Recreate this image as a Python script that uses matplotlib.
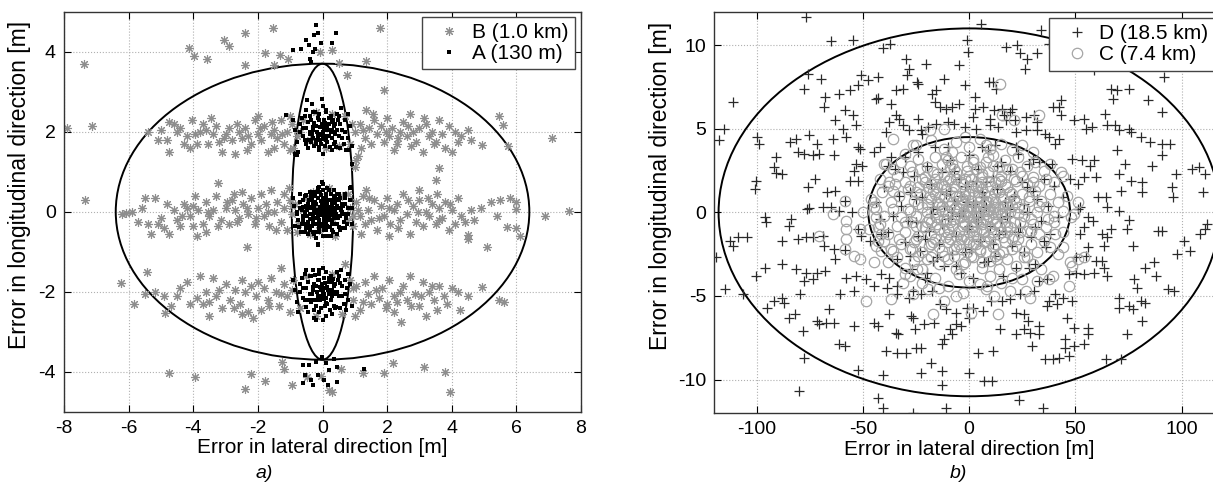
import matplotlib
matplotlib.use('Agg')
import matplotlib.pyplot as plt
from matplotlib.patches import Ellipse

plt.rcParams['font.family'] = ['Liberation Sans', 'DejaVu Sans']
plt.rcParams['axes.unicode_minus'] = False

# ---------------- panel a) data ----------------
# A (130 m): black dots, three clusters + a few strays
A_mid = [(0.0,0.0),(0.1,0.1),(-0.1,0.05),(0.2,-0.1),(-0.2,-0.15),(0.05,0.25),(-0.05,-0.3),(0.3,0.15),
    (-0.3,0.2),(0.15,-0.35),(-0.15,0.35),(0.4,-0.05),(-0.4,-0.05),(0.25,0.3),(-0.25,-0.3),(0.5,0.1),
    (-0.5,0.15),(0.45,-0.3),(-0.45,-0.25),(0.1,0.45),(-0.1,-0.5),(0.6,0.0),(-0.6,-0.1),(0.35,0.4),
    (-0.35,0.4),(0.3,-0.45),(-0.3,-0.5),(0.7,0.2),(-0.7,0.25),(0.65,-0.25),(-0.65,-0.3),(0.0,0.55),
    (0.0,-0.6),(0.2,0.55),(-0.2,0.5),(0.2,-0.6),(-0.2,-0.65),(0.8,-0.05),(-0.8,0.0),(0.55,0.35),
    (-0.55,0.4),(0.55,-0.45),(-0.55,-0.5),(0.12,-0.12),(-0.08,0.12),(0.18,0.02),(-0.18,-0.02),
    (0.03,-0.18),(0.28,-0.22),(-0.28,0.08),(0.38,0.22),(-0.38,-0.18),(0.08,0.32),(-0.12,-0.38),
    (0.48,-0.15),(-0.48,0.05),(0.22,0.12),(-0.22,0.25),(0.32,-0.08),(-0.02,-0.08),(0.15,0.18),
    (-0.32,-0.35),(0.42,0.32),(-0.42,0.3),(0.62,0.15),(-0.62,0.12),(0.72,-0.15),(-0.75,-0.2),
    (0.85,0.3),(-0.85,-0.35),(0.9,-0.3),(-0.9,0.35),(0.25,-0.62),(-0.1,0.62),(0.35,0.55),(-0.4,0.5),
    (0.45,-0.55),(-0.45,-0.55),(0.05,-0.45),(-0.05,0.42),(0.6,-0.4),(-0.6,0.3),(0.78,0.1),(-0.78,-0.05),
    (0.02,0.08),(-0.12,-0.22),(0.12,-0.28),(0.32,0.05),(-0.26,0.0),(0.5,0.45),(-0.5,-0.4),(0.7,-0.4),
    (-0.7,0.45),(0.15,0.58),(-0.25,-0.55),(0.68,0.45),(-0.68,-0.5),(0.92,0.1),(-0.88,0.15),(0.4,0.05),
    (-0.35,0.1),(0.08,-0.62),(-0.15,0.6),(0.3,0.3),(-0.3,-0.1),(-0.13,-0.8),(0.0,0.7),(0.85,0.6),
    (-0.02,0.2),(0.1,-0.05),(-0.01,0.73),(0.88,0.62),(-0.13,-0.83),
    (0.05,0.05),(-0.05,-0.05),(0.15,-0.05),(-0.15,0.05),(0.1,0.2),(-0.1,-0.2),(0.25,0.0),(-0.25,0.1),
    (0.2,-0.2),(-0.2,0.2),(0.35,-0.15),(-0.35,-0.05),(0.0,0.35),(0.0,-0.35),(0.3,0.25),(-0.3,-0.25),
    (0.45,0.15),(-0.45,0.2),(0.4,-0.3),(-0.4,-0.35),(0.12,0.4),(-0.12,-0.42),(0.55,-0.1),(-0.55,0.0),
    (0.22,-0.38),(-0.22,0.38),(0.5,0.3),(-0.5,-0.3),(0.06,-0.25),(-0.06,0.27),(0.18,0.3),(-0.18,-0.32),
    (0.33,0.08),(-0.33,0.3),(0.28,-0.3),(-0.28,-0.15),(0.42,-0.05),(-0.42,0.12),(0.6,0.2),(-0.6,-0.2),
    (0.08,0.14),(-0.14,-0.1),(0.2,0.08),(-0.24,-0.04),(0.14,-0.18),(-0.02,0.18),(0.38,0.38),
    (-0.38,-0.45),(0.52,-0.38),(-0.5,0.42),(0.65,-0.05),(-0.65,0.05),(0.1,-0.45),(-0.08,0.48),
    (0.26,0.45),(-0.3,0.48),(0.45,0.45),(-0.48,-0.12),(0.7,0.35),(-0.72,-0.38),(0.58,0.05),
    (-0.18,-0.5),(0.32,-0.52),(0.75,-0.3),(-0.7,0.1)]
A_up = [(0.0,2.0),(0.1,2.1),(-0.1,1.95),(0.2,1.9),(-0.2,2.15),(0.3,2.05),(-0.3,1.85),(0.05,2.3),
    (-0.05,1.7),(0.4,2.2),(-0.4,2.0),(0.15,1.75),(-0.15,2.35),(0.5,1.9),(-0.5,2.1),(0.25,2.4),
    (-0.25,1.65),(0.6,2.05),(-0.6,1.9),(0.35,1.7),(-0.35,2.3),(0.7,2.3),(-0.7,2.2),(0.1,2.55),
    (-0.1,1.55),(0.45,2.45),(-0.45,1.6),(0.8,1.85),(-0.8,1.75),(0.55,1.6),(-0.55,2.4),(0.2,2.2),
    (-0.2,1.8),(0.3,1.55),(-0.3,2.5),(0.65,1.7),(-0.65,2.35),(0.0,2.65),(0.0,1.45),(0.85,2.15),
    (-0.85,2.05),(0.12,1.9),(-0.08,2.12),(0.38,1.95),(-0.42,1.78),(0.48,2.3),(-0.18,2.0),(0.28,2.25),
    (-0.28,2.05),(0.72,1.55),(-0.75,1.5),(0.9,1.65),(-0.9,2.3),(0.58,2.6),(-0.5,2.55),(0.08,1.65),
    (-0.12,2.45),(0.18,2.05),(0.05,1.82),(-0.02,2.2),(0.42,1.62),(0.78,2.45),(-0.49,2.79),(-0.34,2.69),
    (-0.01,2.81),(-1.14,2.42),(-0.84,1.44),(-0.78,1.42),(0.82,1.54),(0.9,1.2),(0.32,2.0),(-0.38,1.95),
    (0.05,2.05),(-0.05,1.92),(0.15,2.12),(-0.15,1.88),(0.25,1.98),(-0.25,2.22),(0.1,1.8),(-0.1,2.28),
    (0.35,2.15),(-0.35,1.75),(0.2,2.35),(-0.2,1.68),(0.45,2.05),(-0.45,2.25),(0.3,1.85),(-0.3,2.12),
    (0.55,2.2),(-0.55,1.8),(0.0,2.12),(0.0,1.88),(0.4,1.75),(-0.4,2.4),(0.6,1.85),(-0.6,2.1),
    (0.12,2.48),(-0.12,1.62),(0.22,1.62),(-0.22,2.5),(0.5,2.38),(-0.5,1.68),(0.7,2.0),(-0.7,1.98),
    (0.08,2.22),(-0.08,1.78),(0.32,2.3),(-0.32,1.95)]
A_low = [(0.0,-2.0),(0.1,-1.9),(-0.1,-2.1),(0.2,-2.05),(-0.2,-1.85),(0.3,-1.95),(-0.3,-2.2),(0.05,-1.65),
    (-0.05,-2.4),(0.4,-1.8),(-0.4,-2.05),(0.15,-2.3),(-0.15,-1.7),(0.5,-2.1),(-0.5,-1.9),(0.25,-1.6),
    (-0.25,-2.45),(0.6,-1.85),(-0.6,-2.15),(0.35,-2.35),(-0.35,-1.6),(0.7,-1.7),(-0.7,-1.8),(0.1,-2.6),
    (-0.1,-1.45),(0.45,-1.5),(-0.45,-2.5),(0.8,-2.2),(-0.8,-2.25),(0.55,-2.4),(-0.55,-1.55),(0.2,-1.75),
    (-0.2,-2.2),(0.3,-2.55),(-0.3,-1.45),(0.65,-2.3),(-0.65,-1.65),(0.0,-2.7),(0.0,-1.4),(0.85,-1.8),
    (-0.85,-1.95),(0.12,-2.15),(-0.08,-1.88),(0.38,-2.05),(-0.42,-2.22),(0.48,-1.7),(-0.18,-2.0),
    (0.28,-1.75),(-0.28,-1.95),(0.72,-2.45),(-0.75,-2.5),(0.9,-2.35),(-0.9,-1.7),(0.58,-1.45),
    (-0.5,-1.45),(0.08,-2.35),(-0.12,-1.55),(0.18,-1.95),(0.05,-2.18),(-0.02,-1.8),(0.42,-2.38),
    (0.78,-1.55),(-0.25,-2.67),(-0.2,-2.7),(0.75,-1.9),(0.32,-2.0),(-0.38,-2.05),
    (0.05,-2.05),(-0.05,-1.95),(0.15,-1.88),(-0.15,-2.12),(0.25,-2.2),(-0.25,-1.8),(0.1,-2.28),
    (-0.1,-1.72),(0.35,-1.85),(-0.35,-2.25),(0.2,-1.65),(-0.2,-2.35),(0.45,-2.0),(-0.45,-1.75),
    (0.3,-2.12),(-0.3,-1.88),(0.55,-1.78),(-0.55,-2.2),(0.0,-1.9),(0.0,-2.1),(0.4,-2.42),(-0.4,-1.62),
    (0.6,-2.12),(-0.6,-1.9),(0.12,-1.52),(-0.12,-2.5),(0.22,-2.45),(-0.22,-1.58),(0.5,-1.62),
    (-0.5,-2.38),(0.7,-2.05),(-0.7,-2.0),(0.08,-1.78),(-0.08,-2.22),(0.32,-1.68),(-0.32,-2.05)]
A_out = [(-0.19,4.67),(-0.13,4.46),(-0.25,4.42),(0.42,4.46),(-0.52,4.28),(-0.43,4.17),(-0.67,4.07),
    (-0.23,4.06),(-0.31,4.0),(0.29,4.21),(-0.04,4.21),(-0.39,3.81),(-0.9,4.04),(-0.37,3.75),
    (-0.61,-3.82),(-0.43,-3.82),(-0.19,-3.75),(0.11,-3.77),(0.34,-3.67),(0.44,-3.88),(0.2,-3.96),
    (-0.55,-4.08),(-0.37,-4.21),(-0.13,-4.08),(0.05,-4.21),(-0.61,-4.29),(-0.31,-4.33),(0.17,-4.33),
    (0.44,-4.25),(1.27,-3.92),(-0.01,-3.62)]

# B (1.0 km): grey asterisks, three bands + outliers
B_up = [(-7.9,2.1),(-7.14,2.14),(-5.4,1.98),(-5.0,2.05),(-4.76,1.48),(-4.8,1.79),(-4.76,2.25),(-4.5,2.0),
    (-4.4,2.1),(-4.2,1.9),(-4.05,2.3),(-3.9,1.7),(-3.8,2.0),(-3.7,2.2),(-3.6,2.05),(-3.55,1.7),(-3.4,1.95),
    (-3.3,2.15),(-3.1,1.5),(-3.0,1.95),(-2.9,2.1),(-2.8,1.8),(-2.7,1.45),(-2.6,2.0),(-2.5,1.85),(-2.4,2.1),
    (-2.3,1.9),(-2.2,1.7),(-2.1,2.3),(-2.0,1.95),(-1.9,1.8),(-1.8,2.15),(-1.7,1.5),(-1.6,1.95),(-1.5,2.05),
    (-1.4,1.85),(-1.3,2.3),(-1.2,1.7),(-1.1,2.0),(-1.0,1.55),(-0.95,2.2),(-0.8,1.9),(-0.6,2.3),(-0.4,1.8),
    (-0.2,2.5),(0.1,1.6),(0.3,2.45),(0.5,1.65),(0.7,2.4),(0.85,1.7),(1.0,2.0),(1.1,1.4),(1.15,2.2),
    (1.3,1.85),(1.35,2.55),(1.45,2.1),(1.5,1.7),(1.6,2.3),(1.7,1.95),(1.8,2.15),(1.9,1.75),(2.0,2.35),
    (2.05,1.9),(2.15,2.1),(2.3,1.7),(2.4,2.0),(2.5,2.25),(2.6,1.9),(2.7,2.45),(2.8,2.0),(2.9,1.75),
    (3.0,2.1),(3.1,1.5),(3.2,2.2),(3.3,1.9),(3.45,1.7),(3.6,2.3),(3.7,1.95),(3.8,1.6),(4.0,1.5),(4.1,2.0),
    (4.3,1.9),(4.5,2.05),(4.6,1.8),(4.95,1.67),(5.45,2.39),(5.57,2.17),(5.75,1.63),(7.11,1.83),(-4.6,2.2),
    (-3.2,1.75),(-2.0,2.4),(-1.5,1.6),(3.5,1.75),(2.2,1.55),(1.0,1.12),(1.05,1.3),(3.6,1.1),(3.5,0.8),
    (-4.3,1.7),(-3.95,1.95),(-3.45,2.35),(-3.05,1.85),(-2.65,2.2),(-2.35,1.55),(-1.95,2.1),(-1.55,2.25),
    (-1.25,1.95),(-0.9,1.6),(-0.7,2.0),(0.9,2.2),(1.2,1.6),(1.55,2.45),(1.95,2.0),(2.35,1.85),(2.75,1.65),
    (3.15,2.35),(3.4,2.0),(3.9,2.15),(4.2,1.75),(-5.1,1.8),(-4.1,1.6),(2.65,2.15),(1.25,2.05),(-1.0,2.4)]
B_mid = [(-7.35,0.29),(-6.2,-0.05),(-6.07,-0.04),(-5.9,0.0),(-5.7,-0.25),(-5.5,0.35),(-5.4,-0.3),(-5.2,0.35),
    (-5.3,-0.55),(-5.0,-0.15),(-4.9,-0.4),(-4.75,-0.55),(-4.6,0.05),(-4.5,-0.2),(-4.4,-0.35),(-4.3,0.2),
    (-4.2,0.1),(-4.1,-0.1),(-4.0,0.15),(-3.9,-0.6),(-3.85,0.05),(-3.7,-0.3),(-3.6,0.25),(-3.5,-0.1),
    (-3.4,0.05),(-3.3,0.4),(-3.22,0.71),(-3.15,-0.2),(-3.0,0.1),(-2.9,-0.3),(-2.8,0.3),(-2.7,0.05),
    (-2.6,-0.15),(-2.5,0.5),(-2.45,0.2),(-2.33,-0.88),(-2.3,-0.05),(-2.2,0.35),(-2.1,-0.3),(-2.0,0.1),
    (-1.9,0.45),(-1.8,-0.1),(-1.75,0.2),(-1.65,-0.35),(-1.6,0.55),(-1.5,0.0),(-1.4,0.25),(-1.3,-0.25),
    (-1.2,0.1),(-1.1,-0.45),(-1.0,0.3),(-0.95,-0.05),(-0.85,0.2),(-0.75,-0.3),(-0.6,0.05),(-0.5,0.35),
    (-0.4,-0.55),(-0.3,0.5),(-0.1,-0.45),(0.2,0.6),(0.4,-0.6),(0.6,0.4),(0.75,-0.2),(0.85,0.1),
    (0.95,-0.35),(1.05,0.25),(1.15,-0.1),(1.25,0.4),(1.3,-0.3),(1.4,0.05),(1.5,-0.2),(1.6,0.3),
    (1.7,-0.45),(1.8,0.15),(1.9,-0.1),(2.0,0.35),(2.1,-0.3),(2.2,0.05),(2.3,0.2),(2.4,-0.2),(2.5,0.45),
    (2.6,-0.05),(2.7,-0.55),(2.8,0.15),(2.9,-0.25),(3.0,0.3),(3.1,-0.35),(3.2,0.0),(3.3,-0.1),(3.4,0.2),
    (3.5,-0.3),(3.6,0.1),(3.7,-0.15),(3.8,0.25),(3.9,-0.45),(4.0,0.05),(4.1,-0.3),(4.2,0.35),(4.3,-0.1),
    (4.5,-0.58),(4.5,-0.69),(4.6,0.05),(4.7,-0.2),(5.1,-0.88),(5.2,0.25),(5.5,0.3),(5.7,-0.38),(5.8,0.33),
    (6.0,0.25),(6.0,0.06),(6.0,-0.42),(6.1,-0.61),(6.88,-0.11),(7.62,0.02),(-1.05,0.6),(1.35,0.55),
    (3.0,0.55),(-3.6,-0.5),(-2.75,0.45),(2.05,-0.6),(3.55,0.45),(-0.2,0.1),(0.3,-0.15),
    (-5.6,0.1),(-5.1,-0.3),(-4.8,0.2),(-4.35,-0.1),(-3.95,0.4),(-3.55,0.0),(-3.25,-0.35),(-2.95,0.25),
    (-2.65,-0.25),(-2.35,0.1),(-2.05,-0.15),(-1.7,0.0),(-1.45,-0.45),(-1.2,0.45),(-0.95,0.15),(-0.8,-0.5),
    (0.8,0.45),(0.95,-0.1),(1.1,0.05),(1.45,0.35),(1.75,-0.15),(2.05,0.1),(2.35,-0.4),(2.65,0.3),
    (2.95,0.0),(3.25,0.35),(3.6,-0.2),(3.95,0.2),(4.4,-0.25),(4.9,0.1),(5.4,-0.1),(-4.0,-0.35),(1.2,-0.55)]
B_low = [(-6.25,-1.79),(-5.83,-2.31),(-5.42,-1.5),(-5.2,-2.0),(-4.88,-2.54),(-4.7,-2.35),(-4.5,-2.1),
    (-4.2,-1.75),(-4.1,-2.3),(-3.9,-2.15),(-3.8,-1.6),(-3.6,-2.0),(-3.5,-2.25),(-3.4,-1.65),(-3.3,-2.1),
    (-3.1,-2.4),(-3.0,-1.8),(-2.85,-2.2),(-2.7,-1.95),(-2.55,-2.3),(-2.5,-1.7),(-2.3,-2.5),(-2.2,-1.85),
    (-2.15,-2.67),(-2.05,-2.1),(-1.9,-2.45),(-1.8,-1.9),(-1.7,-2.2),(-1.6,-1.65),(-1.45,-2.0),(-1.35,-2.35),
    (-1.2,-1.8),(-1.1,-2.1),(-1.0,-2.5),(-0.9,-1.7),(-0.7,-2.4),(-0.5,-1.6),(-0.2,-2.6),(0.3,-1.55),
    (0.6,-2.55),(0.85,-1.7),(0.95,-2.2),(1.05,-1.85),(1.15,-2.45),(1.3,-1.75),(1.4,-2.05),(1.5,-2.3),
    (1.6,-1.6),(1.75,-2.15),(1.85,-1.9),(1.95,-2.4),(2.05,-1.7),(2.2,-2.1),(2.3,-2.25),(2.42,-2.77),
    (2.5,-1.85),(2.6,-2.2),(2.7,-1.6),(2.85,-2.05),(3.0,-2.35),(3.1,-1.75),(3.2,-2.6),(3.3,-2.0),
    (3.45,-2.2),(3.55,-2.45),(3.6,-1.85),(3.75,-2.1),(4.0,-1.9),(4.26,-2.46),(4.5,-2.1),(4.92,-1.88),
    (5.45,-2.2),(5.63,-2.25),(-1.3,-1.4),(0.7,-1.3),(-2.5,-2.55),(1.0,-2.6),(-3.5,-2.6),
    (-4.9,-2.1),(-4.4,-1.9),(-3.7,-2.3),(-3.2,-1.95),(-2.75,-2.4),(-2.4,-2.0),(-2.0,-1.75),(-1.65,-2.35),
    (-1.3,-2.05),(-0.95,-1.95),(0.95,-1.9),(1.25,-2.25),(1.65,-1.95),(2.0,-2.3),(2.4,-2.0),(2.75,-2.35),
    (3.05,-2.1),(3.4,-1.85),(3.85,-2.3),(4.2,-2.0),(-5.5,-2.05),(2.2,-2.5)]
B_out = [(-1.53,4.58),(1.77,4.58),(-2.39,4.46),(-3.04,4.29),(-2.89,4.13),(-4.14,4.10),(-3.99,3.89),
    (-3.57,3.81),(-7.37,3.69),(-2.39,3.67),(-1.79,3.96),(-1.32,3.92),(-1.08,3.81),(-1.50,3.67),
    (-0.07,4.0),(0.29,4.04),(0.52,3.71),(1.35,3.77),(0.76,3.42),(1.91,3.04),
    (-4.76,-4.04),(-3.95,-4.13),(-2.21,-4.06),(-2.39,-4.42),(-1.79,-4.23),(-1.24,-3.75),(-1.2,-3.92),
    (-0.94,-4.33),(-0.49,-4.13),(0.58,-3.92),(0.29,-4.5),(1.24,-4.04),(1.89,-4.04),(2.19,-3.77),
    (3.14,-3.88),(3.79,-4.0),(3.93,-4.5),(-0.05,-4.1),(0.2,-4.45)]

# fitted ellipses (semi-axes, m)
ell_a = [(6.4, 3.7), (0.95, 3.7)]

# ---------------- panel b) data ----------------
D_pts = [(-77,11.66),(-65,10.26),(-54.7,10.3),(-40.4,9.8),(-37.2,10.06),(-0.9,10.3),(-0.4,9.6),(5.5,11.26),
    (34,10.9),(17.4,9.9),(22.6,10),(23.9,9.5),(27,9.2),(31.7,9.5),(37.6,10.06),(26.2,8.6),(-4.6,8.8),
    (-20.2,8.9),(-29.9,9.2),(-28.4,8.6),(-111,6.6),(-115.6,5.0),(-118,4.3),(-112.8,-1.7),(-109,-1.46),
    (-111,-2.0),(-104.6,-1.5),(-115,-4.6),(-119,-2.7),(-100,4.5),(-99,4.1),(-100.4,1.9),(-101,1.4),
    (-96.3,-0.3),(-95.8,-0.6),(-90.8,3.3),(-91.7,2.7),(-91.2,2.34),(-88,2.3),(-84.4,4.2),(-81.7,4.4),
    (-80.7,3.6),(-78,3.5),(-75.2,4.6),(-73.4,3.4),(-71.6,4.1),(-70.6,3.5),(-64.2,4.4),(-63.7,3.4),
    (-72.5,2.0),(-78,7.4),(-76,8.26),(-69.7,8.0),(-67.9,6.9),(-68.3,6.3),(-61.5,7.06),(-56.3,7.3),
    (-58.7,6.1),(-63.3,5.5),(-50.8,8.2),(-47.7,7.9),(-43.1,8.1),(-44,6.8),(-42.8,6.86),(-52.3,7.6),
    (-59.6,5.0),(-54.5,5.8),(-53.2,5.2),(-57.8,4.5),(-52.3,3.9),(-51.4,3.8),(-53.2,2.9),(-54.1,2.5),
    (-52.3,1.9),(-56,1.9),(-50.5,2.8),(-45,3.6),(-42.2,3.9),(-36.7,3.3),(-76,1.5),(-67,1.2),(-63.3,1.3),
    (-76.5,0.2),(-75.2,0.26),(-68.8,0.3),(-65.1,0.3),(-61.5,0.1),(-58.7,0.7),(-55,0),(-83.9,-0.4),
    (-84.8,-0.8),(-88,-1.7),(-80.7,-1.6),(-77,-1.5),(-73.4,-1.5),(-68.8,-1.4),(-68.4,-2.0),(-63.7,-2.2),
    (-58.7,-2.26),(-52.3,-1.0),(-50.8,-1.4),(-46.8,-1.7),(-41.3,-1.3),(-96.3,-3.3),(-100.4,-3.8),
    (-88,-3.1),(-81.7,-3.4),(-77,-3.6),(-71.6,-3.6),(-67.9,-3.5),(-63.3,-2.8),(-78,-4.1),(-73.4,-4.0),
    (-106.4,-4.9),(-95.4,-5.7),(-92.1,-5.3),(-88,-5.1),(-87.2,-5.4),(-85,-6.3),(-82.2,-6.1),(-79.8,-4.9),
    (-78.3,-7.1),(-71.6,-6.5),(-70.6,-6.7),(-67.3,-6.6),(-63.7,-6.6),(-78,-8.7),(-80.2,-10.66),
    (-61.1,-7.9),(-58.7,-8.0),(-66,-5.8),(-60.6,-4.9),(-58.2,-3.9),(-54.1,-4.7),(-53.2,-3.8),(-48.6,-4.0),
    (-44.9,-4.4),(-41.3,-3.7),(-37.6,-3.9),(-33.9,-4.4),(-54.1,-6.8),(-44.9,-6.6),(-43.1,-6.8),
    (-37.6,-6.1),(-34.3,-7.2),(-33.4,-7.3),(-27.5,-6.2),(-26.6,-6.3),(-25.7,-7.0),(-25.1,-8.1),
    (-22.6,-8.1),(-33.9,-8.4),(-29.7,-8.4),(-39.4,-8.3),(-52.3,-9.4),(-40.4,-9.7),(-43.1,-11.1),
    (-40.4,-11.7),(-26.6,-12.0),(-22.6,-9.6),(-17.8,-9.0),(-12.8,-9.5),(-12.8,-10.3),(-11,-11.7),
    (0,-9.6),(7,-10.1),(10.6,-10.06),(14.7,-7.0),(4.2,-8.4),(11,-8.3),(-21.1,-6.7),(-16.5,-6.6),
    (-11.9,-7.6),(-9.2,-7.0),(-6.1,-6.7),(-3.7,-6.8),(0,-6.3),(-8.3,-7.3),(-12.8,-7.9),
    (22,-6),(25.7,-6.1),(27.5,-6.5),(22,-7.3),(25.7,-7),(28.4,-7.2),(33,-6.8),(33,-7.3),(23.3,-11.2),
    (34.9,-11.7),(29.4,-8),(35.8,-8.8),(39.4,-8.8),(42.2,-8.7),(46.8,-8.6),(45,-7.6),(45,-8.1),
    (49.5,-8.0),(54.1,-7.9),(56,-7.3),(56,-6.9),(49.5,-6.9),(45.9,-6.3),(41.3,-5.5),(44,-5.1),
    (48.6,-5.3),(37.6,-5.3),(36.7,-5.6),(40.4,-4.9),(64.2,-8.8),(71.6,-8.8),(74.3,-7.3),(70.6,-5.1),
    (70.6,-5.7),(75.2,-5.6),(77,-5.8),(80.7,-5.3),(82.6,-5.4),(81.6,-6.5),(78.9,-4.5),(77.6,-4.0),
    (82.6,-3.3),(87.2,-3.0),(88,-3.8),(93.6,-4.6),(96.3,-4.7),(97.8,-2.5),(101,-1.7),(104,-2.3),
    (108.8,-1.3),(111,-1.0),(112,-0.7),(89,-1.1),(91,-1.1),(90.8,3.4),(95.6,1.5),(96.1,0.9),(97.2,2.3),
    (110,1.2),(108,2.7),(111,2.3),(77,-2.0),(65,-1.5),(63.3,-2.0),(62.4,-1.3),(67,-1.0),(74.3,-1.0),
    (75.2,-0.46),(70.6,0.1),(71.6,1.3),(76.1,1.9),(81.6,1.8),(81.6,1.2),(70.6,2.3),(73.4,2.9),
    (69.7,3.7),(76.1,4.8),(75.2,5.0),(80.7,4.5),(85.3,4.2),(90.8,4.1),(94.5,4.1),(86.2,2.8),
    (67,7.4),(69.7,7.3),(75.2,7.4),(67.9,6.8),(84.4,6.7),(90.8,6.0),(91.7,8.1),(105,2.6),(63.9,5.9),
    (65.1,5.2),(68.8,5.2),(70.6,4.9),(58.7,8.5),(43.1,6.7),(42.2,6.3),(43.1,5.8),(49.5,5.5),(54.1,5.6),
    (55,5.0),(57.8,5.1),(58.7,3.1),(56.9,2.8),(53.2,3.1),(48.6,3.2),(47.7,2.0),(51.4,1.7),(54.1,2.1),
    (59.6,2.1),(60.6,0.9),(64.2,0.9),(65.1,0.3),(51.4,0.2),(52.3,0.3),(56,-0.3),(58.1,-0.5),(54.1,-0.9),
    (52.3,-1.3),(56,-2.1),(50.5,-2.7),(55,-2.6),(59.6,-2.9),(62.4,-2.9),(58.7,-3.6),(63.3,-3.3),
    (65.1,-3.8),(54.1,-3.7),(50.5,-3.6),(46.8,-3.7),
    (2.8,6.9),(9.2,7.8),(11,7.8),(12.8,7.4),(11.9,6.1),(15.6,6.2),(19.3,6.0),(20.2,6.2),(16.5,5.8),
    (10,5.6),(6.4,6.3),(2.8,6.2),(1.8,5.7),(3.1,5.0),(-1.8,5.1),(-7.3,5.3),(-10.1,5.4),(-4.6,6.5),
    (-8.3,6.3),(-11,6.2),(-13.8,6.3),(-16,6.6),(-17.4,7.1),(-15.6,7.3),(-11.9,8.0),(-1.8,7.6),
    (-24.8,7.8),(-23.9,7.7),(-34.3,7.3),(-31.2,7.4),(-29.4,8.2),(-36.7,6.5),(-34.3,5.8),(-33,5.6),
    (-31.2,5.2),(-37.6,5.4),(-39.4,4.8),(-28.4,4.9),(-22.9,4.9),(-22,4.7),(-19.3,5.1),(-15.6,5.3),
    (-23.9,5.6),(22,4.8),(26.6,4.9),(30.3,5.8),(32.1,5.4),(32.1,4.9),(35.8,4.7),(37.6,4.5),(40.4,4.1),
    (42.2,4.4),(39.4,6.3),(26.6,5.7),(21.6,5.5),(17.4,5.5),(13.8,5.1),(10,5.2),
    (-26.6,-4.7),(-22.9,-4.9),(-17.4,-4.7),(-13.8,-5.5),(-11,-5.8),(-6.4,-6),(-0.9,-5.7),(1.8,-5.7),
    (6.4,-5.9),(10.1,-5.3),(15.6,-5.3),(19.3,-5.2),(23.9,-4.9),(30.3,-4.7),(33,-4.1),(36.7,-4.0),
    (-28.4,-5.1),(-33.9,-4.9),(-38.5,-4.5),
    (-40,1.5),(-38,-1.2),(-35,2.6),(-34,-2.8),(-32,0.4),(-30,3.3),(-30,-1.8),(-28,1.2),(-27,-3.4),
    (-26,2.2),(-25,-0.6),(-24,3.6),(-23,-2.3),(-22,0.9),(-21,-3.9),(-20,2.8),(-19,-1.1),(-18,1.7),
    (-17,-2.9),(-16,3.9),(-15,0.2),(-14,-1.9),(-13,2.4),(-12,-3.2),(-11,1.1),(-10,-0.4),(-9,3.1),
    (-8,-2.5),(-7,0.7),(-6,-1.4),(-5,2.0),(-4,-3.6),(-3,0.1),(-2,1.6),(-1,-1.0),(0,3.4),(1,-2.2),
    (2,0.5),(3,-0.3),(4,2.6),(5,-1.7),(6,1.2),(7,-3.0),(8,0.3),(9,3.7),(10,-0.8),(11,2.1),(12,-2.6),
    (13,1.4),(14,-1.3),(15,3.0),(16,-3.8),(17,0.6),(18,-0.2),(19,2.5),(20,-2.0),(21,1.0),(22,-3.3),
    (23,3.5),(24,-0.9),(25,1.8),(26,-2.4),(27,0.0),(28,2.9),(29,-1.5),(30,1.3),(31,-3.1),(32,0.8),
    (33,3.0),(34,-0.5),(35,2.0),(36,-2.1),(37,0.4),(38,-1.3),(40,1.6),(42,-0.3),(44,0.9),(-42,-0.4),
    (-44,0.6),(-36,-0.2),(-33,1.0),(-29,-0.5),(-25,0.8),(-21,-1.6),(-17,0.3),(-13,-0.7),(-9,1.3),
    (-5,-0.2),(-1,0.6),(3,1.9),(7,0.9),(11,-1.9),(15,-0.4),(19,0.2),(23,-1.2),(27,1.5),(31,-0.9),
    (35,-1.7),(-6,-3.2),(2,-3.9),(6,3.9),(-10,3.9),(12,4.0),(-20,-3.6),(22,3.9),(28,-3.3),(-28,-2.6),
    (-31,2.4),(39,2.9),(-38,2.8),(-2,-2.4),(4,-0.6),(-7,2.5),(9,-2.9),(13,2.8),(-15,-2.7),(17,-1.1),
    (-12,0.4),(0,-0.8),(-4,1.0),(8,1.8),(-8,0.0),(26,0.5),(-24,-1.4),(30,3.2),(-18,-0.1),(5,0.0)]

C_pts = [(-25,4.0),(-18,4.3),(-12,3.8),(-6,4.2),(0,3.9),(5,4.4),(10,3.8),(15,4.1),(20,3.7),(25,4.0),
    (30,3.6),(-30,3.5),(-8,3.6),(8,4.0),(-2,4.5),
    (-36,2.6),(-32,3.0),(-28,2.8),(-24,3.2),(-20,2.7),(-16,3.3),(-13,2.9),(-10,3.1),(-7,2.6),(-4,3.3),
    (-1,2.8),(2,3.2),(5,2.7),(8,3.0),(11,3.4),(14,2.7),(17,3.1),(20,2.6),(23,3.3),(27,2.8),(31,3.0),
    (35,2.5),(38,2.9),(-40,2.9),
    (-42,2.0),(-38,1.6),(-34,2.2),(-30,1.8),(-27,2.4),(-24,1.5),(-21,2.1),(-18,1.7),(-15,2.3),(-12,1.6),
    (-9,2.0),(-6,2.4),(-3,1.7),(0,2.2),(3,1.6),(6,2.1),(9,2.4),(12,1.8),(15,2.2),(18,1.5),(21,2.0),
    (24,2.4),(27,1.7),(30,2.1),(33,1.6),(36,2.0),(40,1.8),(44,2.2),
    (-46,0.8),(-41,1.2),(-37,0.6),(-33,1.0),(-29,1.4),(-26,0.7),(-23,1.1),(-20,0.5),(-17,1.3),(-14,0.9),
    (-11,1.4),(-8,0.6),(-5,1.0),(-2,1.3),(1,0.7),(4,1.2),(7,0.5),(10,1.0),(13,1.4),(16,0.8),(19,1.2),
    (22,0.6),(25,1.1),(28,0.9),(31,1.3),(34,0.7),(38,1.1),(42,0.6),(46,1.0),(-15,0.6),(-3,0.8),(6,1.4),
    (12,0.6),
    (-50,0.0),(-45,0.3),(-40,-0.2),(-36,0.2),(-32,-0.3),(-28,0.1),(-25,-0.2),(-22,0.3),(-19,-0.4),
    (-16,0.0),(-13,0.4),(-10,-0.1),(-7,0.2),(-4,-0.3),(-1,0.1),(2,-0.2),(5,0.3),(8,-0.4),(11,0.0),
    (14,0.2),(17,-0.3),(20,0.4),(23,-0.1),(26,0.2),(29,-0.4),(32,0.0),(36,0.3),(40,-0.2),(44,0.1),
    (48,-0.3),(-6,-0.1),(3,0.4),(9,0.1),(-12,-0.4),(15,-0.1),
    (-47,-1.0),(-42,-0.7),(-38,-1.3),(-34,-0.8),(-30,-1.2),(-27,-0.6),(-24,-1.4),(-21,-0.9),(-18,-1.3),
    (-15,-0.7),(-12,-1.1),(-9,-0.6),(-6,-1.4),(-3,-0.8),(0,-1.2),(3,-0.6),(6,-1.0),(9,-1.4),(12,-0.7),
    (15,-1.2),(18,-0.8),(21,-1.4),(24,-0.6),(27,-1.1),(30,-0.7),(33,-1.3),(36,-0.9),(40,-0.6),
    (44,-1.2),(-10,-1.0),(2,-1.4),(10,-0.9),(-20,-0.6),
    (-44,-2.0),(-40,-1.7),(-36,-2.3),(-32,-1.9),(-28,-2.2),(-25,-1.6),(-22,-2.4),(-19,-2.0),(-16,-1.6),
    (-13,-2.3),(-10,-1.8),(-7,-2.2),(-4,-1.6),(-1,-2.4),(2,-1.9),(5,-2.3),(8,-1.7),(11,-2.1),(14,-2.5),
    (17,-1.8),(20,-2.2),(23,-1.6),(26,-2.3),(29,-1.9),(32,-2.4),(35,-1.7),(38,-2.1),(42,-2.5),
    (-38,-3.0),(-34,-2.7),(-30,-3.3),(-26,-2.9),(-22,-3.4),(-18,-2.7),(-14,-3.1),(-10,-2.8),(-6,-3.4),
    (-2,-3.0),(2,-2.7),(6,-3.3),(10,-2.9),(14,-3.4),(18,-2.8),(22,-3.2),(26,-2.7),(30,-3.1),(34,-3.4),
    (-24,-2.6),(12,-2.6),
    (-28,-3.8),(-22,-4.2),(-16,-3.9),(-10,-4.4),(-5,-3.7),(0,-4.1),(5,-4.3),(10,-3.8),(15,-4.2),
    (20,-3.9),(25,-4.0),(-14,-4.5),(8,-4.6),
    (-18,0.8),(-15,-0.3),(-13,1.7),(-11,-1.5),(-9,0.4),(-8,-0.8),(-7,1.6),(-5,-1.9),(-4,0.6),(-3,-0.6),
    (-2,2.0),(-1,-1.6),(0,0.4),(0,-0.3),(1,1.5),(2,0.2),(3,-1.1),(4,0.9),(5,-0.5),(6,1.8),(7,-1.7),
    (8,0.7),(9,-0.2),(10,1.6),(11,-1.2),(12,0.3),(13,-0.6),(14,1.2),(16,-1.5),(18,0.5),(19,-0.9),
    (-17,-1.8),(-16,1.1),(-14,-1.0),(-12,0.9),(-10,1.9),(-6,0.3),(-2,-0.1),(1,-0.9),(4,-1.6),(7,0.1),
    (11,0.8),(15,1.9),(17,0.0),(-19,1.5),(20,-1.6),
    (-28,1.6),(-26,-1.8),(-24,0.5),(-23,2.6),(-22,-0.8),(-21,1.8),(-20,-2.8),(-19,0.9),(-18,-1.9),
    (-17,2.4),(-16,-0.9),(-15,1.5),(-14,-2.1),(-13,0.1),(-12,2.2),(-11,-0.5),(-10,0.7),(-9,-1.6),
    (-9,2.7),(-8,1.2),(-7,-0.4),(-7,-2.6),(-6,0.9),(-6,2.0),(-5,-1.1),(-5,0.2),(-4,1.8),(-4,-2.2),
    (-3,0.5),(-3,-1.4),(-2,-0.7),(-2,1.0),(-1,2.5),(-1,-0.2),(0,1.1),(0,-1.8),(0,0.0),(1,0.3),(1,-2.6),
    (1,2.0),(2,-0.9),(2,1.3),(3,0.0),(3,-1.9),(3,2.6),(4,-0.3),(4,1.6),(5,0.7),(5,-2.2),(6,-0.7),
    (6,2.3),(7,1.1),(7,-1.2),(8,-0.1),(8,-2.4),(9,1.9),(9,0.6),(10,-1.6),(10,0.2),(11,2.8),(11,-0.4),
    (12,1.2),(12,-1.9),(13,0.0),(14,-0.8),(14,2.0),(15,0.9),(16,-2.4),(16,0.4),(17,1.7),(18,-1.2),
    (18,2.6),(19,0.0),(20,1.1),(21,-0.6),(22,1.9),(22,-2.0),(23,0.3),(24,-1.2),(25,2.2),(26,-0.2),
    (27,-2.7),(28,0.7),(29,-1.1),(30,1.8),(-30,-0.6),(-29,0.2),(-27,-2.2),(-25,1.2),(-25,-0.8),
    (-22,2.0),(-20,0.0),(-18,-0.6),(-16,2.0),(-14,0.5),(-12,-2.6),(-10,-1.3),(-8,2.9),(-6,-2.0),
    (-3,-3.1),(2,3.0),(6,-3.0),(13,-2.8),(17,-0.6),(21,0.8),(-11,3.3),(9,3.3),(-33,-1.6),(33,0.4),
    (-36,1.3),(37,-0.4),
    (-48.6,-5.3),(-36.7,-5.2),(-17.1,-6.1),(0.9,-6.0),(13.8,-6.1),(14.7,7.7),(33,5.8),(21.1,5.5),
    (15.6,5.8),(-57.8,-0.5),(-57.8,-1.0),(-70.6,-1.4),(-58.7,0.7),(-64.2,-0.1),(-51.4,-1.0),
    (-57.8,-1.6),(-58.7,-2.2),(-54.1,-2.6),(-51.4,-2.8),(-45,-3.0),(-41.3,-2.3),(39.4,-3.8),
    (37.6,-4.0),(46.8,-4.4),(47.7,-3.0),(48.6,-3.2),(54.1,-2.7),(51.4,-2.8),(43.1,2.4),(40.4,-1.3),
    (44,-2.1),(49.5,-0.1),(51.4,0.6),(-11.9,5.0),(-18.3,4.9),(-26.6,4.0),(-35.8,4.4),(-39.4,2.9),
    (-34.9,1.7),(-37.6,1.8),(-45,0.6),(-44,0.2),(-44,-0.3),(-43.1,-0.9),(-41.3,-1.3),(-43.1,-1.7),
    (-36.7,-2.2),(-31.2,-4.2),(-30.3,-3.7),(-24.8,-3.4),(-26.6,-4.9),(-19.3,-4.6),(-11.9,-5.3),
    (-6.4,-5.0),(-2.8,-4.8),(8.3,-4.4),(11.9,-5.0),(19.3,-4.7),(26.6,-4.7),(28.4,-5.1),(32.1,-4.1)]

ell_b = [(118, 11.0), (47.5, 4.5)]

grey_b = '#8e8e8e'
grey_c = '#a5a5a5'


def unzip(pts):
    return [p[0] for p in pts], [p[1] for p in pts]


def style_axes(ax):
    ax.grid(True, linestyle=':', color='#b0b0b0', linewidth=0.8)
    ax.set_axisbelow(True)
    ax.tick_params(direction='in', top=True, right=True, length=5, labelsize=14, pad=6)
    for s in ax.spines.values():
        s.set_linewidth(1.0)
        s.set_color('#333333')


fig = plt.figure(figsize=(12.13, 4.91), dpi=100)

# ---- a)
ax1 = fig.add_axes([0.0528, 0.1615, 0.4262, 0.8147])
bx, by = unzip(B_up + B_mid + B_low + B_out)
ax1.plot(bx, by, linestyle='none', marker=(8, 2, 0), markersize=6.5, markeredgewidth=0.8,
         color=grey_b, label='B (1.0 km)')
ax_, ay_ = unzip(A_mid + A_up + A_low + A_out)
ax1.plot(ax_, ay_, linestyle='none', marker='s', markersize=2.7, markeredgewidth=0,
         color='black', label='A (130 m)')
for a, b in ell_a:
    ax1.add_patch(Ellipse((0, 0), 2 * a, 2 * b, fill=False, edgecolor='black', linewidth=1.4))
ax1.set_xlim(-8, 8)
ax1.set_ylim(-5, 5)
ax1.set_xticks([-8, -6, -4, -2, 0, 2, 4, 6, 8])
ax1.set_yticks([-4, -2, 0, 2, 4])
style_axes(ax1)
ax1.set_xlabel('Error in lateral direction [m]', fontsize=15, labelpad=1)
leg1 = ax1.legend(loc='upper right', bbox_to_anchor=(0.988, 0.987), fontsize=15, fancybox=False,
                  framealpha=1, edgecolor='#444444', handlelength=2.0, handletextpad=0.1,
                  borderpad=0.3, labelspacing=0.1, borderaxespad=0, markerscale=1.0)
leg1.get_frame().set_linewidth(1.0)
fig.text(20 / 1213, 1 - 185 / 491, 'Error in longitudinal direction [m]', rotation=90,
         ha='center', va='center', fontsize=16.5)
fig.text(264 / 1213, 1 - 473 / 491, 'a)', style='italic', ha='center', va='center', fontsize=14)

# ---- b)
ax2 = fig.add_axes([0.5889, 0.1589, 0.4202, 0.8173])
dx, dy = unzip(D_pts)
ax2.plot(dx, dy, linestyle='none', marker='+', markersize=7, markeredgewidth=0.9,
         color='#2a2a2a', label='D (18.5 km)')
cx, cy = unzip(C_pts)
ax2.plot(cx, cy, linestyle='none', marker='o', markersize=7.5, markeredgewidth=0.9,
         markerfacecolor='none', markeredgecolor=grey_c, label='C (7.4 km)')
for a, b in ell_b:
    ax2.add_patch(Ellipse((0, 0), 2 * a, 2 * b, fill=False, edgecolor='black', linewidth=1.4))
ax2.set_xlim(-120, 120)
ax2.set_ylim(-12, 12)
ax2.set_xticks([-100, -50, 0, 50, 100])
ax2.set_yticks([-10, -5, 0, 5, 10])
style_axes(ax2)
ax2.set_xlabel('Error in lateral direction [m]', fontsize=15, labelpad=1)
leg2 = ax2.legend(loc='upper right', bbox_to_anchor=(0.982, 0.984), fontsize=15, fancybox=False,
                  framealpha=1, edgecolor='#444444', handlelength=2.0, handletextpad=0.1,
                  borderpad=0.3, labelspacing=0.1, borderaxespad=0)
leg2.get_frame().set_linewidth(1.0)
fig.text(660 / 1213, 1 - 186 / 491, 'Error in longitudinal direction [m]', rotation=90,
         ha='center', va='center', fontsize=16.5)
fig.text(958 / 1213, 1 - 473 / 491, 'b)', style='italic', ha='center', va='center', fontsize=14)

fig.savefig('out.png', dpi=100)
